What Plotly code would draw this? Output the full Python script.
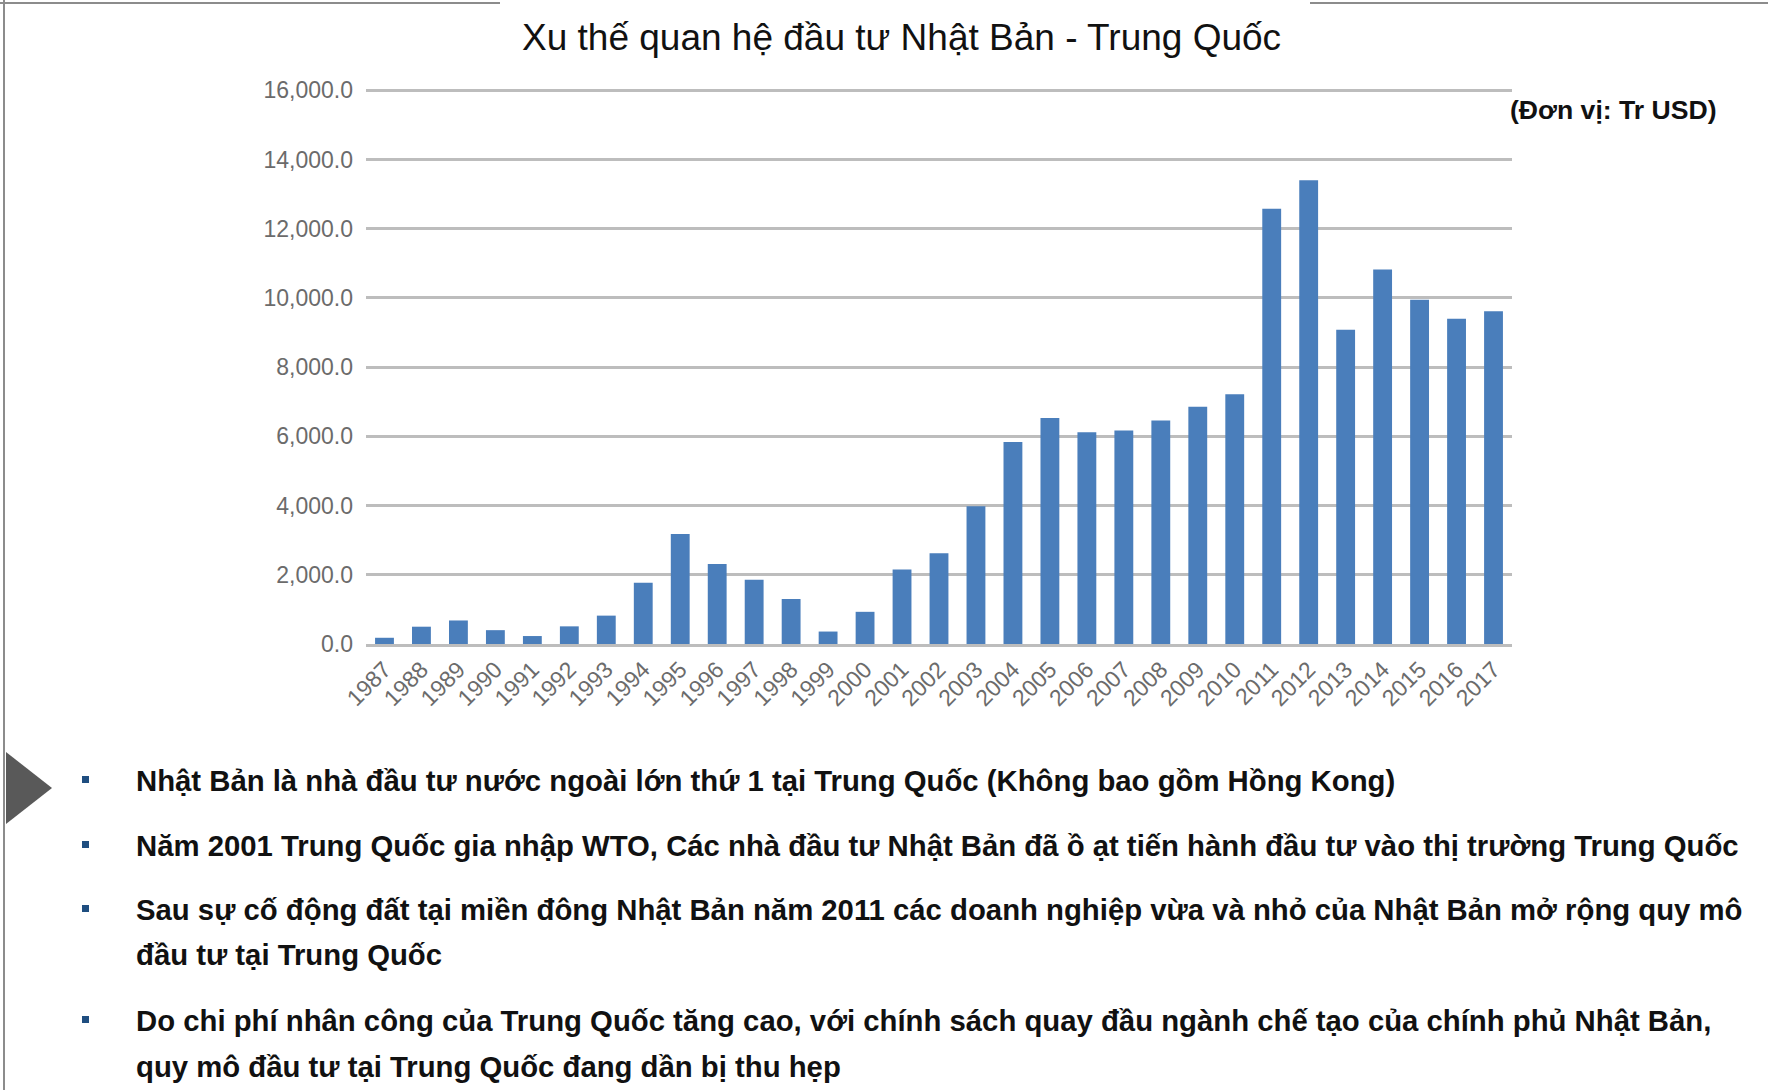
"""
Xu thế quan hệ đầu tư Nhật Bản - Trung Quốc : biểu đồ cột
"""

import plotly.graph_objects as go

# Dữ liệu (Tr USD)
years = [str(y) for y in range(1987, 2018)]
investment = [
    180, 500, 680, 400, 230, 510, 820, 1770, 3180, 2310,
    1860, 1300, 360, 930, 2150, 2620, 3980, 5840, 6530, 6120,
    6170, 6460, 6860, 7220, 12580, 13400, 9080, 10820, 9950, 9400,
    9620,
]
y_ticks = [0, 2000, 4000, 6000, 8000, 10000, 12000, 14000, 16000]

title_text = "Xu thế quan hệ đầu tư Nhật Bản - Trung Quốc"
unit_text = "(Đơn vị: Tr USD)"
bullet_lines = [
    ["Nhật Bản là nhà đầu tư nước ngoài lớn thứ 1 tại Trung Quốc (Không bao gồm Hồng Kong)"],
    ["Năm 2001 Trung Quốc gia nhập WTO, Các nhà đầu tư Nhật Bản đã ồ ạt tiến hành đầu tư vào thị trường Trung Quốc"],
    ["Sau sự cố động đất tại miền đông Nhật Bản năm 2011 các doanh nghiệp vừa và nhỏ của Nhật Bản mở rộng quy mô",
     "đầu tư tại Trung Quốc"],
    ["Do chi phí nhân công của Trung Quốc tăng cao, với chính sách quay đầu ngành chế tạo của chính phủ Nhật Bản,",
     "quy mô đầu tư tại Trung Quốc đang dần bị thu hẹp"],
]
bullet_y = [[780], [845], [909, 954], [1020, 1066]]

W, H = 1768, 1090
Y_MAX = 16040
L, R, B = 366, 1512, 644          # vùng vẽ (pixel)
T = round(B - (644 - 90) / 16000 * Y_MAX)  # 16,000 nằm ở y = 90


def px(x):
    return (x - L) / (R - L)


def py(y):
    return (B - y) / (B - T)


BOLD_FONT = "Liberation Sans Narrow, Arial Narrow, Liberation Sans, Arial"

fig = go.Figure()

fig.add_trace(go.Bar(
    x=years,
    y=investment,
    marker_color="#4a7ebb",
    marker_line_width=0,
    hovertemplate="%{x}: %{y:,.1f}<extra></extra>",
))

fig.update_layout(
    width=W,
    height=H,
    margin=dict(l=L, r=W - R, t=T, b=H - B),
    paper_bgcolor="white",
    plot_bgcolor="white",
    bargap=0.49,
    showlegend=False,
    font=dict(family="Liberation Sans, Arial", color="#595959"),
)

fig.update_yaxes(
    range=[0, Y_MAX],
    tickvals=y_ticks,
    tickformat=",.1f",
    tickfont=dict(size=23, color="#6b6b6b"),
    showgrid=True,
    gridcolor="#bdbdbd",
    gridwidth=3,
    zeroline=False,
    showline=False,
    ticks="",
    ticklabelstandoff=12,
)
fig.update_xaxes(
    tickangle=-45,
    tickfont=dict(size=23, color="#6b6b6b"),
    showline=True,
    linecolor="#bdbdbd",
    linewidth=3,
    ticks="",
    showgrid=False,
)

annotations = [
    dict(text=title_text, x=px(901), y=py(37), xref="paper", yref="paper",
         showarrow=False, xanchor="center", yanchor="middle",
         font=dict(family="Liberation Sans, Arial", size=37, color="#111111")),
    dict(text="<b>" + unit_text + "</b>", x=px(1508), y=py(110), xref="paper", yref="paper",
         showarrow=False, xanchor="left", yanchor="middle",
         font=dict(family=BOLD_FONT, size=26.6, color="#111111")),
]

shapes = [
    # khung viền
    dict(type="line", xref="paper", yref="paper", x0=px(0), x1=px(500), y0=py(3), y1=py(3),
         line=dict(color="#8c8c8c", width=2)),
    dict(type="line", xref="paper", yref="paper", x0=px(1310), x1=px(W), y0=py(3), y1=py(3),
         line=dict(color="#8c8c8c", width=2)),
    dict(type="line", xref="paper", yref="paper", x0=px(4), x1=px(4), y0=py(0), y1=py(H),
         line=dict(color="#8c8c8c", width=2)),
    # tam giác
    dict(type="path", xref="paper", yref="paper",
         path=f"M {px(6)},{py(752)} L {px(52)},{py(788)} L {px(6)},{py(824)} Z",
         fillcolor="#595959", line=dict(width=0)),
]

for lines, ys in zip(bullet_lines, bullet_y):
    shapes.append(dict(type="rect", xref="paper", yref="paper",
                       x0=px(82), x1=px(89), y0=py(ys[0] - 4), y1=py(ys[0] + 3),
                       fillcolor="#1f4e80", line=dict(width=0)))
    for line, yy in zip(lines, ys):
        annotations.append(dict(
            text="<b>" + line + "</b>", x=px(134), y=py(yy), xref="paper", yref="paper",
            showarrow=False, xanchor="left", yanchor="middle",
            font=dict(family=BOLD_FONT, size=29.3, color="#111111")))

fig.update_layout(annotations=annotations, shapes=shapes)

# bỏ lề mặc định của trang để hình khớp cửa sổ
fig.write_html(
    "out.html",
    config={"displayModeBar": False},
    post_script="document.body.style.margin='0px';",
)
